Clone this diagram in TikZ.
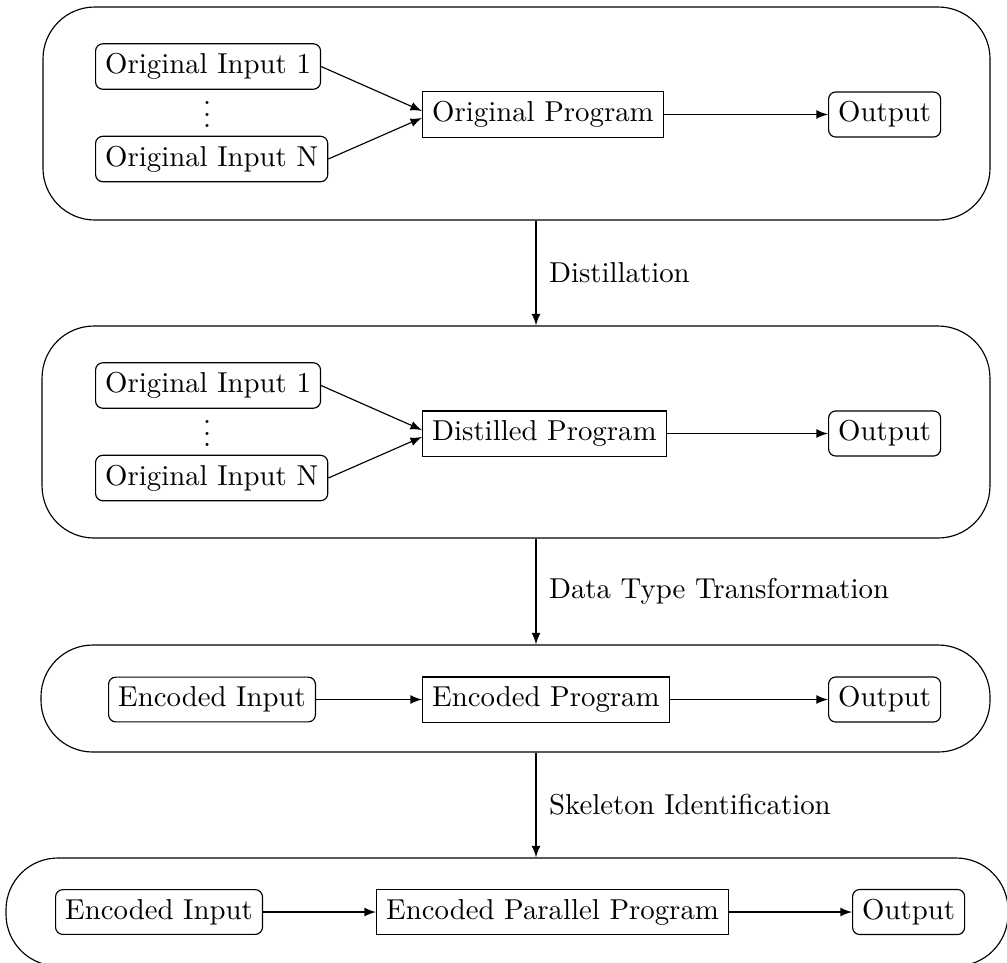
\documentclass[tikz,border=0pt]{standalone}
\usetikzlibrary{arrows}
\begin{document}
\begin{tikzpicture}[x=0.3472pt, y=-0.3472pt,
  stage/.style={draw, rounded corners=18pt, inner sep=0pt},
  databox/.style={draw, rounded corners=2.5pt, anchor=west},
  progbox/.style={draw, anchor=west},
  dotsbox/.style={inner sep=0pt},
  flow/.style={-latex},
  steplabel/.style={right, xshift=1pt}]
\useasboundingbox (0,0) rectangle (1007,962);

% vertical line on which the transformation arrows run
\coordinate (spine) at (536,0);

% ---- stage 1: original program
\node[stage, minimum width=328.8pt, minimum height=73.95pt] (s1) at (516.5,113.5) {};
\node[databox] (a1) at (95,66.5) {Original Input 1};
\node[databox] (aN) at (95,159) {Original Input N};
\node[dotsbox] (adots) at (207,106) {$\vdots$};
\node[progbox] (ap) at (422,114.5) {Original Program};
\node[databox] (ao) at (828,114.5) {Output};
\draw[flow] (a1.east) -- ([yshift=1.2pt]ap.west);
\draw[flow] (aN.east) -- ([yshift=-1.2pt]ap.west);
\draw[flow] (ap) -- (ao);

% ---- stage 2: distilled program
\node[stage, minimum width=329.1pt, minimum height=73.6pt] (s2) at (516,432) {};
\node[databox] (b1) at (95,385.5) {Original Input 1};
\node[databox] (bN) at (95,478) {Original Input N};
\node[dotsbox] (bdots) at (207,425) {$\vdots$};
\node[progbox] (bp) at (422,433.5) {Distilled Program};
\node[databox] (bo) at (828,433.5) {Output};
\draw[flow] (b1.east) -- ([yshift=1.2pt]bp.west);
\draw[flow] (bN.east) -- ([yshift=-1.2pt]bp.west);
\draw[flow] (bp) -- (bo);

% ---- stage 3: encoded program
\node[stage, minimum width=329.5pt, minimum height=37.15pt] (s3) at (515.5,698.5) {};
\node[databox] (ci) at (108,699.5) {Encoded Input};
\node[progbox] (cp) at (422,699.5) {Encoded Program};
\node[databox] (co) at (828,699.5) {Output};
\draw[flow] (ci) -- (cp);
\draw[flow] (cp) -- (co);

% ---- stage 4: encoded parallel program
\node[stage, minimum width=347.9pt, minimum height=37.5pt] (s4) at (507,912) {};
\node[databox] (di) at (55,912) {Encoded Input};
\node[progbox] (dp) at (376,912) {Encoded Parallel Program};
\node[databox] (do) at (852,912) {Output};
\draw[flow] (di) -- (dp);
\draw[flow] (dp) -- (do);

% ---- transformations between the stages
\draw[flow] (s1.south -| spine) -- (s2.north -| spine)
  node[steplabel, midway] {Distillation};
\draw[flow] (s2.south -| spine) -- (s3.north -| spine)
  node[steplabel, midway] {Data Type Transformation};
\draw[flow] (s3.south -| spine) -- (s4.north -| spine)
  node[steplabel, midway] {Skeleton Identification};
\end{tikzpicture}
\end{document}
